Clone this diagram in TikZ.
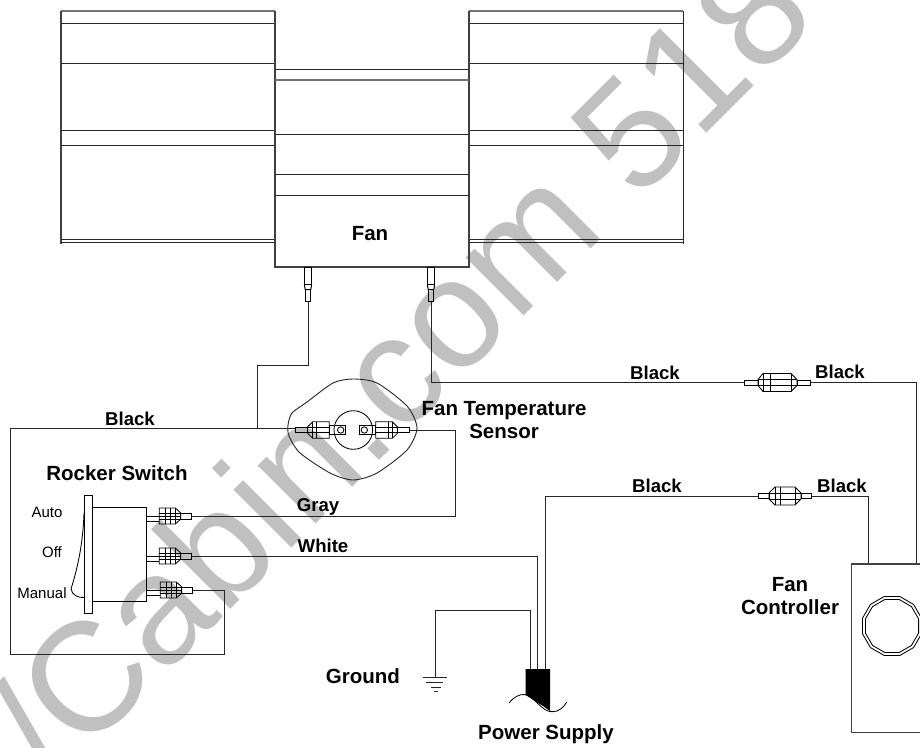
\documentclass[tikz,border=0pt]{standalone}
\usepackage{fontspec}
\setmainfont{Liberation Sans}
\definecolor{wm}{RGB}{192,192,192}
\tikzset{
  wire/.style={draw=black!85,line width=0.9pt},
  body/.style={draw=black!75,line width=1.1pt},
  grayedge/.style={draw=black!55,line width=1.4pt},
  part/.style={draw=black,line width=0.85pt},
  lab/.style={font=\fontsize{20.5}{23}\selectfont\bfseries,inner sep=0pt,align=center},
  wirelab/.style={font=\fontsize{18.6}{21}\selectfont\bfseries,inner sep=0pt},
  small/.style={font=\fontsize{15}{17}\selectfont,inner sep=0pt},
  conn/.pic={
    \draw[part] (0,-2.5) rectangle (14,2.5);
    \draw[part] (14,-3) -- (19,-9) -- (47,-9) -- (53,-3) -- (53,3) -- (47,9) -- (19,9) -- (14,3) -- cycle;
    \draw[part] (19,-9) -- (19,9) (26,-9) -- (26,9) (47,-9) -- (47,9) (14,-3) -- (53,-3) (14,3) -- (53,3);
    \draw[part] (53,-2.5) rectangle (66,2.5);
  },
  connb/.pic={
    \draw[part] (0,-2.5) rectangle (11,2.5);
    \draw[part] (11,-3) -- (17,-9) -- (37,-9) -- (43,-3) -- (43,3) -- (37,9) -- (17,9) -- (11,3) -- cycle;
    \draw[part] (17,-9) -- (17,9) (22,-9) -- (22,9) (37,-9) -- (37,9) (11,-3) -- (43,-3) (11,3) -- (43,3);
    \draw[part] (43,-2.5) rectangle (53,2.5);
  },
  plug/.pic={
    \draw[part] (0,-8) -- (16,-8) -- (21.5,-3) -- (21.5,3) -- (16,8) -- (0,8) -- cycle;
    \draw[part] (0,-3) -- (21.5,-3) (0,3) -- (21.5,3) (0,0) -- (21.5,0) (6,-8) -- (6,8) (11,-8) -- (11,8) (16,-8) -- (16,8);
    \draw[part] (21.5,-3) rectangle (32,3);
    \draw[part] (-13,0) -- (0,0) (-13,5) -- (0,5);
  },
  spade/.pic={
    \draw[line width=1.3pt] (-3.7,0) rectangle (3.7,17);
    \draw[line width=1pt] (-3.7,17) -- (-2.8,22) -- (2.8,22) -- (3.7,17);
    \draw[part] (-2.8,22) rectangle (2.8,34);
  },
  lplug/.pic={
    \draw[part] (-17,-2.8) rectangle (-5.5,2.8);
    \draw[part] (-5.5,-2.8) -- (0,-8.3) -- (16.5,-8.3) -- (16.5,8.3) -- (0,8.3) -- (-5.5,2.8);
    \draw[part] (0,-8.3) -- (0,8.3) (4,-8.3) -- (4,8.3) (-5.5,-2.8) -- (16.5,-2.8) (-5.5,2.8) -- (16.5,2.8);
    \draw[part] (16.5,-4.7) rectangle (33,4.7);
    \draw[part] (28,0) circle (3.2);
  }
}
\begin{document}
\begin{tikzpicture}[x=1pt,y=-1pt]
\useasboundingbox (0,0) rectangle (920,747);
\fill[white] (0,0) rectangle (920,747);
% watermark
\node[text=wm,font=\fontsize{155}{155}\selectfont,rotate=45,anchor=base west,inner sep=0pt] (wmark) at (53,787) {/Cabin.com 518};
% left fan housing
\draw[grayedge] (61,11) -- (275,11);
\draw[body] (61,11) -- (61,244);
\draw[wire] (61,23) -- (275,23) (61,63) -- (275,63) (61,130) -- (275,130) (61,145) -- (275,145) (61,239.7) -- (275,239.7) (61,242.3) -- (275,242.3);
% right fan housing
\draw[grayedge] (469,11) -- (683,11);
\draw[wire] (683,11) -- (683,244);
\draw[wire] (469,23) -- (683,23) (469,63) -- (683,63) (469,130) -- (683,130) (469,145) -- (683,145) (469,239.7) -- (683,239.7) (469,242.3) -- (683,242.3);
% center
\draw[body] (275,11) -- (275,267) -- (469,267) -- (469,11);
\draw[wire] (275,69.5) -- (469,69.5) (275,134) -- (469,134) (275,174.5) -- (469,174.5) (275,195.5) -- (469,195.5);
\draw[grayedge] (275,80) -- (469,80);
\node[lab] (fan) at (370,234) {Fan};
% spades
\coordinate (sp1) at (308,267.5);
\coordinate (sp2) at (431,267.5);
\pic at (sp1) {spade};
\pic at (sp2) {spade};
% wires
\coordinate (w1) at (308,301.5);
\coordinate (w2) at (431,301.5);
\draw[wire] (w1) -- (308,365) -- (257,365) -- (257,428);
\draw[wire] (w2) -- (431,382.5) -- (744,382.5);
\draw[wire] (810,382) -- (916,382) -- (916,564);
\draw[wire] (545.7,669) -- (545.7,496) -- (758,496);
\draw[wire] (811,496) -- (868.3,496) -- (868.3,564);
\draw[wire] (296,428) -- (10.7,428) -- (10.7,654.5) -- (224,654.5) -- (224,590) -- (192,590);
\draw[wire] (409,430) -- (455.3,430) -- (455.3,516) -- (190.7,516);
\draw[wire] (191.7,556) -- (537.7,556) -- (537.7,669);
\draw[wire] (530,669) -- (530,610.7) -- (435,610.7) -- (435,677.3);
% inline connectors
\pic at (744,382.5) {conn};
\pic at (758,496) {connb};
% sensor
\draw[wire] plot[smooth cycle,tension=0.45] coordinates {(288,425) (292,413) (307,402) (333,383) (353,379) (377,383) (407,406) (417,428) (407,450) (377,473) (353,480) (330,473) (300,453) (289,436)};
\draw[part] (353.3,430) circle (19.3);
\pic at (312.7,430) {lplug};
\pic[xscale=-1] at (392.3,430) {lplug};
% rocker switch
\draw[part] (84.3,495.7) rectangle (92.7,613.3);
\draw[part] (92.7,507.7) -- (146.7,507.7) -- (146.7,601.7) -- (92.7,601.7);
\draw[part] (84,513) .. controls (83,545) and (77,570) .. (71,589) .. controls (72,595) and (78,598) .. (84.3,597.5);
\pic at (159.3,516) {plug};
\pic at (159.3,556) {plug};
\pic at (160.3,590) {plug};
% power supply
\fill[black] (525.7,669) -- (550,669) -- (550,711) -- (543,706) -- (525.7,695) -- cycle;
\draw[part] (509,703) .. controls (514,697) and (519,694) .. (525,694.5) .. controls (535,697) and (542,712) .. (552,711.7) .. controls (559,712) and (564,707) .. (566.7,702);
% ground
\draw[wire] (422.7,677.3) -- (447,677.3) (425.7,682.3) -- (443.3,682.3) (431,687.3) -- (440.7,687.3) (433.5,691.3) -- (438,691.3);
% controller
\draw[body] (920,564) -- (851.7,564) -- (851.7,732.7) -- (920,732.7);
\draw[part,shift={(892,626)}] plot[samples at={0,30,...,360},variable=\t] ({30.5*cos(\t+15)},{30.5*sin(\t+15)});
\draw[part,shift={(892,626)}] plot[samples at={0,30,...,360},variable=\t] ({27.5*cos(\t+15)},{27.5*sin(\t+15)});
% labels
\node[wirelab] (l1) at (130,419) {Black};
\node[wirelab] (l2) at (655,373) {Black};
\node[wirelab] (l3) at (840,372) {Black};
\node[wirelab] (l4) at (657,486) {Black};
\node[wirelab] (l5) at (842,486) {Black};
\node[wirelab] (l6) at (318,507) {Gray};
\node[wirelab] (l7) at (323,546) {White};
\node[lab] (l8) at (504,420) {Fan Temperature\\Sensor};
\node[lab] (l9) at (117,473) {Rocker Switch};
\node[lab] (l10) at (363,676) {Ground};
\node[lab] (l11) at (546,734) {Power Supply};
\node[lab] (l12) at (790,596) {Fan\\Controller};
\node[small] (a) at (47,512) {Auto};
\node[small] (b) at (52,552) {Off};
\node[small] (c) at (42,593) {Manual};
\end{tikzpicture}
\end{document}
